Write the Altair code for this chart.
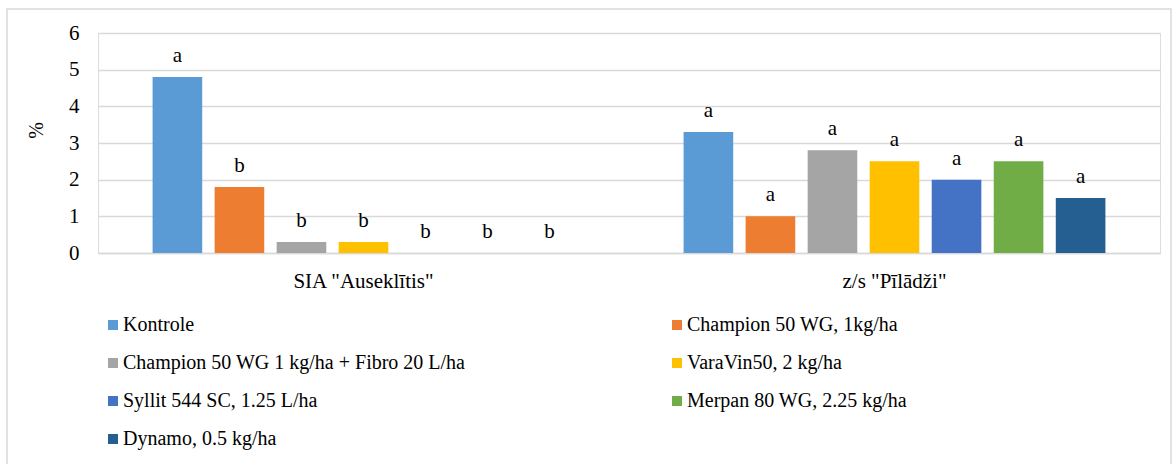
import altair as alt
import pandas as pd

# Sites (x categories) and treatments (series)
sites = ['SIA "Auseklītis"', 'z/s "Pīlādži"']
treatments = [
    "Kontrole",
    "Champion 50 WG, 1kg/ha",
    "Champion 50 WG 1 kg/ha + Fibro 20 L/ha",
    "VaraVin50, 2 kg/ha",
    "Syllit 544 SC, 1.25 L/ha",
    "Merpan 80 WG, 2.25 kg/ha",
    "Dynamo, 0.5 kg/ha",
]
colors = ["#5B9BD5", "#ED7D31", "#A5A5A5", "#FFC000", "#4472C4", "#70AD47", "#255E91"]

# Percentage values per site, in treatment order
values_auseklitis = [4.8, 1.8, 0.3, 0.3, 0.0, 0.0, 0.0]
values_piladzi = [3.3, 1.0, 2.8, 2.5, 2.0, 2.5, 1.5]

# Significance letters per site, in treatment order
letters_auseklitis = ["a", "b", "b", "b", "b", "b", "b"]
letters_piladzi = ["a", "a", "a", "a", "a", "a", "a"]

rows = []
for site, vals, lets in [
    (sites[0], values_auseklitis, letters_auseklitis),
    (sites[1], values_piladzi, letters_piladzi),
]:
    for t, v, l in zip(treatments, vals, lets):
        rows.append({"site": site, "treatment": t, "value": v, "letter": l})
df = pd.DataFrame(rows)

# The legend fills its two columns top to bottom, so list the entries so that
# they read left-to-right, row by row, in treatment order.
legend_order = treatments[0::2] + treatments[1::2]
legend_colors = [colors[treatments.index(t)] for t in legend_order]

FONT = "Liberation Serif"
GRID = "#d9d9d9"

x_enc = alt.X(
    "site:N",
    sort=sites,
    scale=alt.Scale(paddingInner=0, paddingOuter=0),
    axis=alt.Axis(
        title=None,
        labelAngle=0,
        labelFont=FONT,
        labelFontSize=21,
        labelColor="#000000",
        labelPadding=17,
        ticks=False,
        domain=True,
        domainColor=GRID,
        domainWidth=1.5,
        grid=False,
    ),
)
xoff_enc = alt.XOffset(
    "treatment:N",
    sort=treatments,
    scale=alt.Scale(paddingInner=0.2, paddingOuter=0.88),
)
y_enc = alt.Y(
    "value:Q",
    scale=alt.Scale(domain=[0, 6], nice=False),
    axis=alt.Axis(
        title="%",
        titleFont=FONT,
        titleFontSize=20,
        titleFontWeight="normal",
        titleColor="#000000",
        titleX=-52,
        titleY=97,
        values=[0, 1, 2, 3, 4, 5, 6],
        tickCount=7,
        labelOverlap=False,
        labelFont=FONT,
        labelFontSize=21,
        labelColor="#000000",
        labelPadding=19,
        ticks=False,
        domain=False,
        grid=True,
        gridColor=GRID,
        gridWidth=1.5,
    ),
)

bars = alt.Chart(df).mark_bar().encode(
    x=x_enc,
    xOffset=xoff_enc,
    y=y_enc,
    color=alt.Color(
        "treatment:N",
        scale=alt.Scale(domain=legend_order, range=legend_colors),
        legend=alt.Legend(
            title=None,
            orient="none",
            legendX=5,
            legendY=282,
            columns=2,
            columnPadding=201,
            rowPadding=18,
            padding=0,
            symbolType="square",
            symbolSize=100,
            symbolStrokeWidth=0,
            labelFont=FONT,
            labelFontSize=20,
            labelColor="#000000",
            labelLimit=700,
            labelOffset=0,
        ),
    ),
)

labels = alt.Chart(df).mark_text(
    font=FONT, fontSize=21, color="#000000", baseline="alphabetic", dy=-15
).encode(
    x=x_enc,
    xOffset=xoff_enc,
    y=alt.Y("value:Q"),
    text="letter:N",
)

# Light frame around the whole chart
frame = alt.Chart(alt.Data(values=[{}])).mark_rect(
    fill=None, stroke=GRID, strokeWidth=1.5
).encode(
    x=alt.value(-91),
    x2=alt.value(1073),
    y=alt.value(-24),
    y2=alt.value(440),
)

chart = (
    alt.layer(frame, bars, labels)
    .properties(
        width=1062,
        height=220,
        autosize=alt.AutoSizeParams(type="none"),
        padding={"left": 98, "top": 33, "right": 13, "bottom": 211},
    )
    .configure_view(stroke=None)
    .configure(background="white")
)

chart.save("out.html", embed_options={"renderer": "svg", "actions": False})
